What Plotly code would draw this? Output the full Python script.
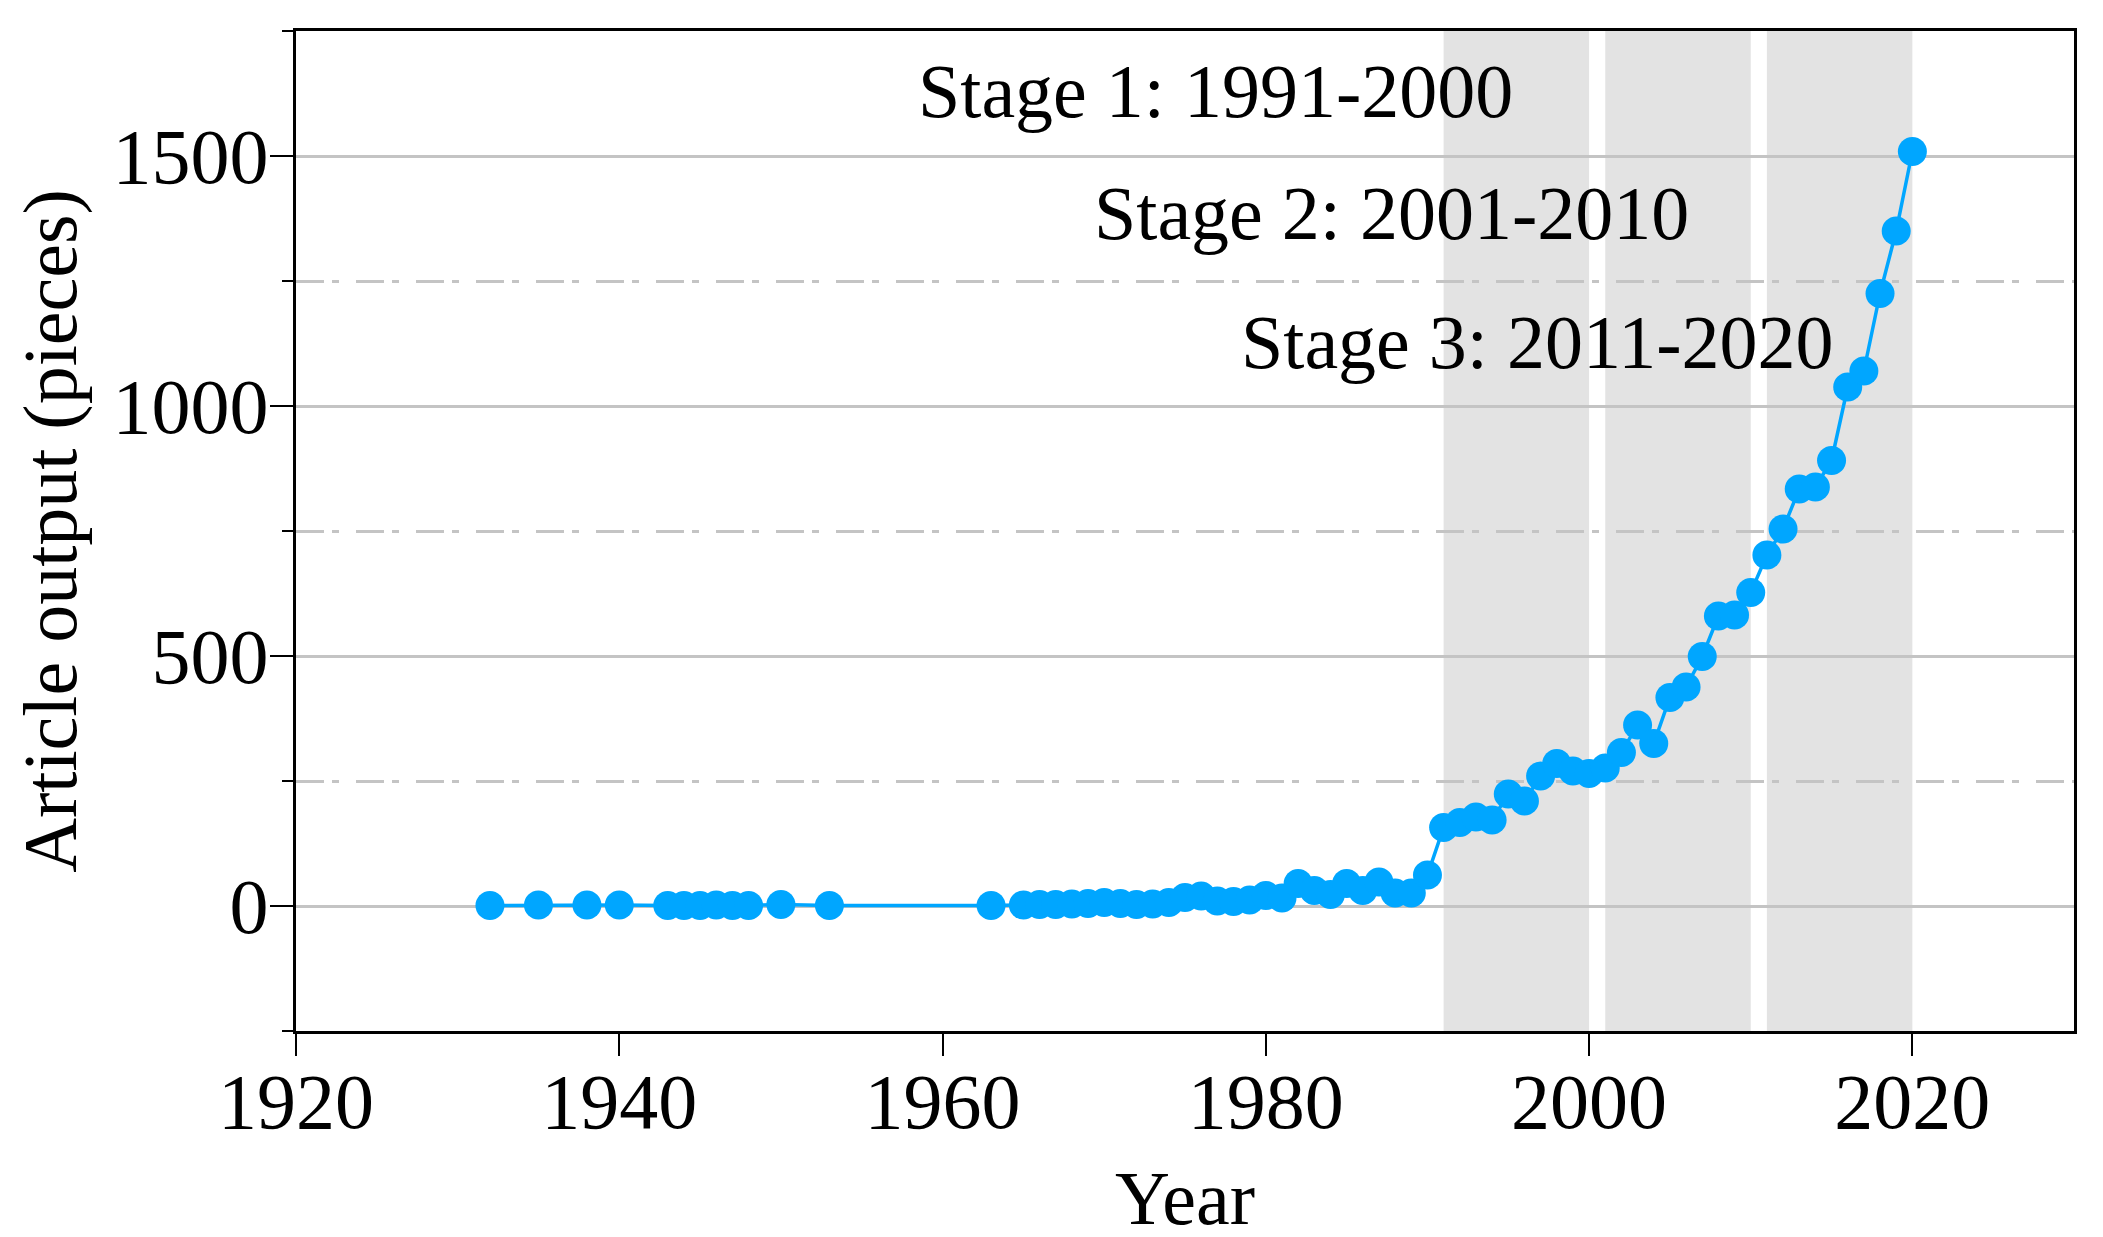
import plotly.graph_objects as go

# article counts
years = [1932, 1935, 1938, 1940, 1943, 1944, 1945, 1946, 1947, 1948, 1950, 1953, 1963,
         1965, 1966, 1967, 1968, 1969, 1970, 1971, 1972, 1973, 1974, 1975, 1976, 1977,
         1978, 1979, 1980, 1981, 1982, 1983, 1984, 1985, 1986, 1987, 1988, 1989, 1990,
         1991, 1992, 1993, 1994, 1995, 1996, 1997, 1998, 1999, 2000, 2001, 2002, 2003,
         2004, 2005, 2006, 2007, 2008, 2009, 2010, 2011, 2012, 2013, 2014, 2015, 2016,
         2017, 2018, 2019, 2020]
articles = [1, 2, 2, 2, 1, 1, 1, 2, 1, 1, 3, 1, 1,
            2, 3, 3, 4, 5, 7, 5, 3, 4, 7, 17, 20, 10,
            9, 12, 21, 16, 45, 31, 23, 45, 31, 48, 26, 26, 62,
            157, 167, 178, 172, 224, 210, 260, 285, 270, 265, 276, 307, 362,
            325, 417, 438, 499, 580, 582, 627, 702, 754, 834, 838, 891, 1038,
            1070, 1225, 1350, 1509]

stage_labels = ["Stage 1: 1991-2000", "Stage 2: 2001-2010", "Stage 3: 2011-2020"]
stage_spans = [(1991, 2000), (2001, 2010), (2011, 2020)]
label_pos = [(1976.9, 1630), (1987.8, 1386), (1996.8, 1128)]

FONT = "Liberation Serif, Times New Roman, serif"
BLUE = "#00a6ff"

fig = go.Figure()
fig.add_trace(go.Scatter(x=years, y=articles, mode="lines+markers",
                         line=dict(color=BLUE, width=3.5),
                         marker=dict(color=BLUE, size=29),
                         showlegend=False))

for x0, x1 in stage_spans:
    fig.add_shape(type="rect", xref="x", yref="paper", x0=x0, x1=x1, y0=0, y1=1,
                  fillcolor="#e3e3e3", line=dict(width=0), layer="below")

for txt, (ax, ay) in zip(stage_labels, label_pos):
    fig.add_annotation(x=ax, y=ay, xref="x", yref="y", text=txt, showarrow=False,
                       xanchor="center", yanchor="middle",
                       font=dict(family=FONT, size=76, color="black"))

# page body adds an 8px offset, margins are shifted to compensate
fig.update_layout(
    width=2103, height=1237,
    margin=dict(l=288, r=37, t=23, b=214, autoexpand=False),
    paper_bgcolor="white", plot_bgcolor="white",
    font=dict(family=FONT, size=76, color="black"),
    xaxis=dict(range=[1920, 2030], tick0=1920, dtick=20, ticks="outside", ticklen=22,
               tickwidth=2, tickcolor="black", showline=True, linecolor="black",
               linewidth=3, mirror=True, showgrid=False, zeroline=False,
               automargin=False, tickfont=dict(size=78), ticklabelstandoff=-22,
               title=dict(text="Year", font=dict(size=76), standoff=28)),
    yaxis=dict(range=[-250, 1750], tick0=0, dtick=500, ticks="outside", ticklen=23,
               tickwidth=2, tickcolor="black", showline=True, linecolor="black",
               linewidth=3, mirror=True, showgrid=True, gridcolor="#c4c4c4",
               gridwidth=3, zeroline=False, automargin=False,
               tickfont=dict(size=78), ticklabelstandoff=-14,
               minor=dict(dtick=250, tick0=0, ticks="outside", ticklen=11,
                          tickwidth=2, tickcolor="black", showgrid=True,
                          gridcolor="#c4c4c4", gridwidth=3,
                          griddash="28px,8px,7px,17px"),
               title=dict(text="Article output (pieces)", font=dict(size=76),
                          standoff=24)),
)

fig.write_html("out.html")
